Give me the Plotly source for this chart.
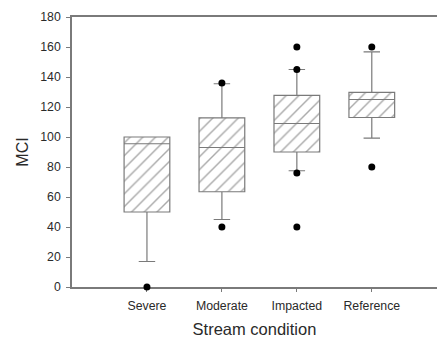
import plotly.graph_objects as go

categories = ["Severe", "Moderate", "Impacted", "Reference"]
positions = [1, 2, 3, 4]
q1 = [50, 63.5, 90, 113]
median = [95.5, 93, 109, 125]
q3 = [100, 112.8, 127.7, 129.7]
lower_whisker = [17, 45, 77.5, 99.3]
upper_whisker = [100, 135.5, 145, 156.7]
outlier_x = [1, 2, 2, 3, 3, 3, 3, 4, 4]
outlier_y = [0, 40, 136, 40, 76, 145, 160, 80, 160]
y_ticks = [0, 20, 40, 60, 80, 100, 120, 140, 160, 180]

box_w = 0.61
edge = "#7a7a7a"
font_family = "Liberation Sans, Arial, sans-serif"

fig = go.Figure()

# hatched fill of the boxes
fig.add_trace(go.Bar(
    x=positions,
    y=[b - a for a, b in zip(q1, q3)],
    base=q1,
    width=box_w,
    marker=dict(
        color="white",
        line=dict(width=0),
        pattern=dict(shape="/", fgcolor="#555555", bgcolor="white",
                     size=9, solidity=0.16),
    ),
    showlegend=False,
    hoverinfo="skip",
))

# box outlines, medians, whiskers
fig.add_trace(go.Box(
    x=positions,
    q1=q1, median=median, q3=q3,
    lowerfence=lower_whisker, upperfence=upper_whisker,
    width=box_w,
    whiskerwidth=0.36,
    fillcolor="rgba(0,0,0,0)",
    line=dict(color=edge, width=1.2),
    boxpoints=False,
    showlegend=False,
))

# outliers
fig.add_trace(go.Scatter(
    x=outlier_x, y=outlier_y, mode="markers",
    marker=dict(color="black", size=7),
    cliponaxis=False, showlegend=False,
))

fig.update_layout(
    width=437, height=340,
    margin=dict(l=72, r=0, t=17, b=53),
    plot_bgcolor="white", paper_bgcolor="white",
    font=dict(family=font_family, color="#2a2a2a"),
    barmode="overlay",
    xaxis=dict(
        range=[0, 4.87],
        tickvals=positions, ticktext=categories,
        showline=True, linecolor=edge, linewidth=1.5, mirror=True,
        ticks="outside", ticklen=3, tickcolor=edge, tickwidth=1,
        showgrid=False, zeroline=False, layer="below traces",
        tickfont=dict(size=12.3), ticklabelstandoff=3,
        title=dict(text="Stream condition", font=dict(size=16.5), standoff=12),
    ),
    yaxis=dict(
        range=[0, 180],
        tickvals=y_ticks,
        showline=True, linecolor=edge, linewidth=1.5,
        ticks="outside", ticklen=4, tickcolor=edge, tickwidth=1,
        showgrid=False, zeroline=False, layer="below traces",
        tickfont=dict(size=12.3), ticklabelstandoff=3,
        title=dict(text="MCI", font=dict(size=16), standoff=8),
    ),
)

fig.write_html("out.html")
